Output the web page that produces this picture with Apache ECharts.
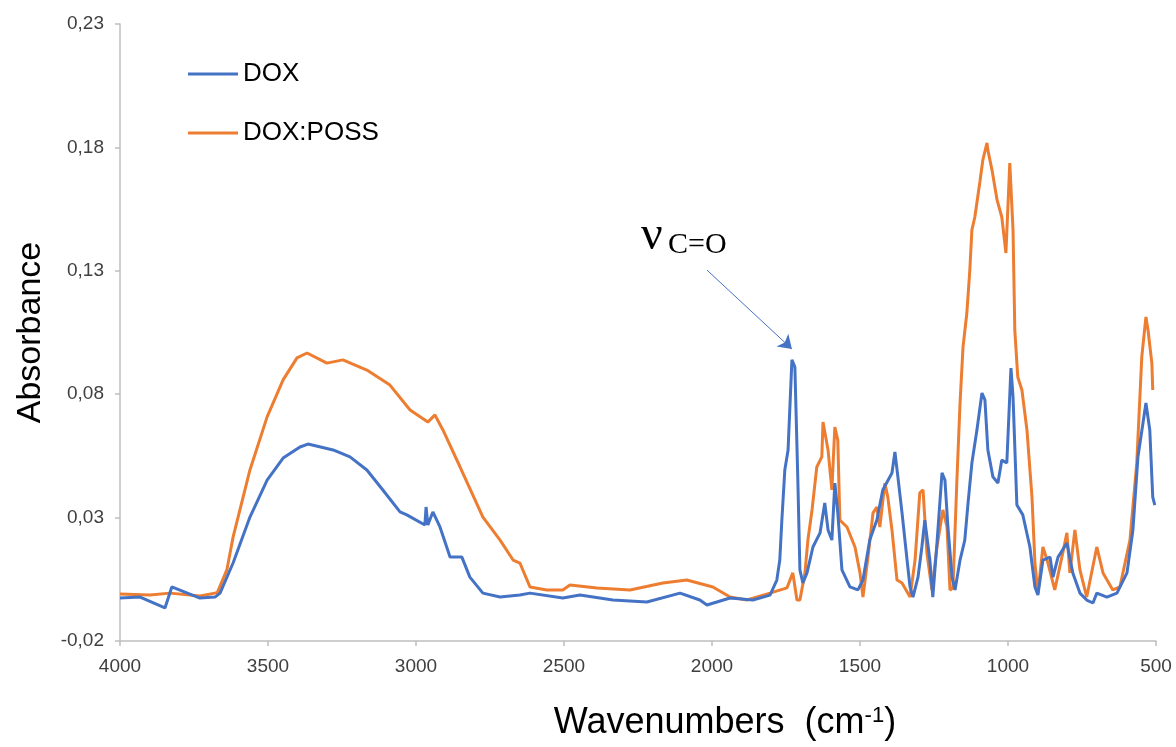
<!DOCTYPE html>
<html>
<head>
<meta charset="utf-8">
<script src="https://cdn.jsdelivr.net/npm/echarts@6/dist/echarts.min.js"></script>
<style>
  html, body { margin: 0; padding: 0; background: #fff; }
  #ftir { width: 1176px; height: 747px; }
</style>
</head>
<body>
<div id="ftir"></div>
<script>
// [wavenumber (cm-1), absorbance]
var doxSpectrum = [
  [4000, -0.0026], [3932, -0.0022], [3848, -0.0066], [3825, 0.0019], [3730, -0.0026],
  [3679, -0.0022], [3662, -0.0006], [3618, 0.0116], [3561, 0.0302], [3503, 0.0452],
  [3449, 0.0541], [3392, 0.0586], [3365, 0.0598], [3280, 0.0574], [3223, 0.0546],
  [3166, 0.0493], [3112, 0.0412], [3054, 0.0323], [3031, 0.0311], [2970, 0.0270],
  [2966, 0.0343], [2960, 0.0270], [2943, 0.0323], [2919, 0.0262], [2885, 0.0140],
  [2845, 0.0140], [2818, 0.0059], [2774, -0.0006], [2716, -0.0022], [2649, -0.0014],
  [2615, -0.0006], [2504, -0.0026], [2446, -0.0014], [2335, -0.0034], [2220, -0.0042],
  [2108, -0.0006], [2041, -0.0034], [2017, -0.0054], [1939, -0.0026], [1862, -0.0034],
  [1804, -0.0014], [1781, 0.0047], [1771, 0.0128], [1764, 0.0290], [1754, 0.0493],
  [1743, 0.0574], [1730, 0.0939], [1720, 0.0910], [1710, 0.0452], [1703, 0.0088],
  [1693, 0.0035], [1679, 0.0076], [1659, 0.0181], [1635, 0.0238], [1619, 0.0359],
  [1608, 0.0250], [1595, 0.0209], [1585, 0.0440], [1575, 0.0319], [1561, 0.0088],
  [1534, 0.0019], [1507, 0.0007], [1490, 0.0047], [1467, 0.0209], [1443, 0.0290],
  [1423, 0.0412], [1392, 0.0481], [1382, 0.0566], [1372, 0.0465], [1358, 0.0319],
  [1341, 0.0128], [1331, 0.0019], [1321, -0.0022], [1304, 0.0059], [1291, 0.0181],
  [1281, 0.0290], [1264, 0.0128], [1254, -0.0022], [1240, 0.0197], [1223, 0.0481],
  [1213, 0.0452], [1203, 0.0262], [1189, 0.0059], [1179, 0.0007], [1162, 0.0128],
  [1146, 0.0209], [1135, 0.0359], [1122, 0.0521], [1105, 0.0655], [1088, 0.0805],
  [1078, 0.0777], [1068, 0.0574], [1051, 0.0465], [1034, 0.0440], [1021, 0.0533],
  [1004, 0.0521], [990, 0.0906], [983, 0.0789], [970, 0.0351], [950, 0.0311],
  [926, 0.0181], [909, 0.0019], [899, -0.0014], [882, 0.0128], [858, 0.0140],
  [848, 0.0059], [831, 0.0140], [801, 0.0197], [781, 0.0076], [757, -0.0006],
  [734, -0.0034], [713, -0.0046], [700, -0.0006], [666, -0.0022], [632, -0.0006],
  [598, 0.0076], [578, 0.0250], [561, 0.0546], [544, 0.0683], [534, 0.0764],
  [521, 0.0655], [511, 0.0383], [504, 0.0351]
];

var possSpectrum = [
  [4000, -0.0010], [3899, -0.0014], [3831, -0.0006], [3730, -0.0018], [3679, -0.0006],
  [3672, -0.0006], [3639, 0.0088], [3618, 0.0221], [3561, 0.0493], [3503, 0.0708],
  [3449, 0.0858], [3402, 0.0947], [3368, 0.0967], [3301, 0.0926], [3247, 0.0939],
  [3166, 0.0898], [3088, 0.0837], [3020, 0.0736], [2960, 0.0687], [2936, 0.0716],
  [2909, 0.0655], [2851, 0.0505], [2774, 0.0302], [2716, 0.0209], [2672, 0.0128],
  [2649, 0.0116], [2615, 0.0019], [2558, 0.0007], [2504, 0.0007], [2480, 0.0027],
  [2389, 0.0015], [2277, 0.0007], [2166, 0.0035], [2085, 0.0047], [1997, 0.0019],
  [1939, -0.0022], [1882, -0.0034], [1804, -0.0006], [1747, 0.0015], [1727, 0.0076],
  [1713, -0.0034], [1703, -0.0034], [1686, 0.0076], [1676, 0.0209], [1662, 0.0331],
  [1646, 0.0505], [1629, 0.0546], [1625, 0.0687], [1608, 0.0574], [1595, 0.0412],
  [1585, 0.0667], [1575, 0.0614], [1568, 0.0290], [1544, 0.0262], [1517, 0.0181],
  [1500, 0.0076], [1490, -0.0022], [1473, 0.0140], [1456, 0.0319], [1443, 0.0343],
  [1433, 0.0262], [1416, 0.0440], [1406, 0.0383], [1392, 0.0250], [1375, 0.0047],
  [1358, 0.0035], [1331, -0.0022], [1314, 0.0128], [1298, 0.0400], [1287, 0.0412],
  [1274, 0.0157], [1257, 0.0007], [1240, 0.0181], [1220, 0.0331], [1206, 0.0262],
  [1196, 0.0007], [1186, 0.0015], [1173, 0.0440], [1162, 0.0764], [1152, 0.0991],
  [1139, 0.1129], [1129, 0.1303], [1122, 0.1465], [1112, 0.1518], [1095, 0.1660],
  [1085, 0.1749], [1071, 0.1818], [1068, 0.1789], [1054, 0.1708], [1037, 0.1587],
  [1021, 0.1518], [1007, 0.1372], [994, 0.1737], [983, 0.1465], [977, 0.1060],
  [967, 0.0870], [953, 0.0817], [936, 0.0655], [919, 0.0383], [909, 0.0116],
  [899, -0.0006], [882, 0.0181], [865, 0.0116], [842, 0.0007], [818, 0.0140],
  [801, 0.0238], [791, 0.0076], [774, 0.0250], [757, 0.0088], [734, -0.0022],
  [700, 0.0181], [679, 0.0076], [646, 0.0007], [622, 0.0019], [588, 0.0209],
  [565, 0.0521], [548, 0.0951], [534, 0.1113], [527, 0.1060], [514, 0.0926],
  [511, 0.0817]
];

var seriesNames = ['DOX', 'DOX:POSS'];
var yTicks = { min: -0.02, max: 0.23, step: 0.05 };
var xTicks = { min: 500, max: 4000, step: 500 };
// arrow for the carbonyl band: from label to the 1730 peak
var carbonylArrow = [[2017, 0.1303], [1730, 0.0983]];

var chart = echarts.init(document.getElementById('ftir'));

var option = {
  animation: false,
  color: ['#4472C4', '#ED7D31'],
  grid: { left: 120, right: 20, top: 24, bottom: 106 },
  legend: {
    data: seriesNames,
    orient: 'vertical',
    left: 188,
    top: 61,
    padding: 0,
    itemGap: 33,
    itemWidth: 50,
    itemHeight: 3,
    icon: 'rect',
    textStyle: { fontSize: 26, color: '#000', fontFamily: '"Liberation Sans", sans-serif' }
  },
  xAxis: {
    type: 'value',
    inverse: true,
    min: xTicks.min,
    max: xTicks.max,
    interval: xTicks.step,
    name: 'Wavenumbers  (cm{sup|-1})',
    nameLocation: 'middle',
    nameGap: 64,
    nameTextStyle: {
      fontSize: 36, color: '#000', fontFamily: '"Liberation Sans", sans-serif',
      padding: [0, 0, 0, 174],
      rich: { sup: { fontSize: 22, verticalAlign: 'top', padding: [0, 0, 14, 0], color: '#000' } }
    },
    splitLine: { show: false },
    axisLine: { onZero: false, lineStyle: { color: '#BFBFBF', width: 1.5 } },
    axisTick: { show: true, length: 5, lineStyle: { color: '#BFBFBF', width: 1.5 } },
    axisLabel: {
      fontSize: 19, color: '#404040', margin: 16, fontFamily: '"Liberation Sans", sans-serif',
      formatter: function (v) { return String(v); }
    }
  },
  yAxis: {
    type: 'value',
    min: yTicks.min,
    max: yTicks.max,
    interval: yTicks.step,
    name: 'Absorbance',
    nameLocation: 'middle',
    nameGap: 72,
    nameTextStyle: { fontSize: 34, color: '#000', fontFamily: '"Liberation Sans", sans-serif' },
    splitLine: { show: false },
    axisLine: { show: true, onZero: false, lineStyle: { color: '#BFBFBF', width: 1.5 } },
    axisTick: { show: true, length: 5, lineStyle: { color: '#BFBFBF', width: 1.5 } },
    axisLabel: {
      fontSize: 19, color: '#404040', margin: 16, fontFamily: '"Liberation Sans", sans-serif',
      formatter: function (v) { return v.toFixed(2).replace('.', ','); }
    }
  },
  series: [
    {
      name: seriesNames[0],
      type: 'line',
      data: doxSpectrum,
      showSymbol: false,
      lineStyle: { width: 3 },
      z: 3,
      markLine: {
        silent: true,
        symbol: ['none', 'arrow'],
        symbolSize: 13,
        lineStyle: { color: '#4472C4', width: 1, type: 'solid' },
        itemStyle: { color: '#4472C4' },
        label: { show: false },
        emphasis: { disabled: true },
        data: [[{ coord: carbonylArrow[0] }, { coord: carbonylArrow[1] }]]
      }
    },
    {
      name: seriesNames[1],
      type: 'line',
      data: possSpectrum,
      showSymbol: false,
      lineStyle: { width: 3 },
      z: 2
    }
  ],
  graphic: [
    { type: 'text', left: 641, top: 212, style: { text: 'ν', font: '48px "Liberation Serif"', fill: '#000' } },
    { type: 'text', left: 668, top: 230, style: { text: 'C=O', font: '30px "Liberation Serif"', fill: '#000' } }
  ]
};

option && chart.setOption(option);
</script>
</body>
</html>
